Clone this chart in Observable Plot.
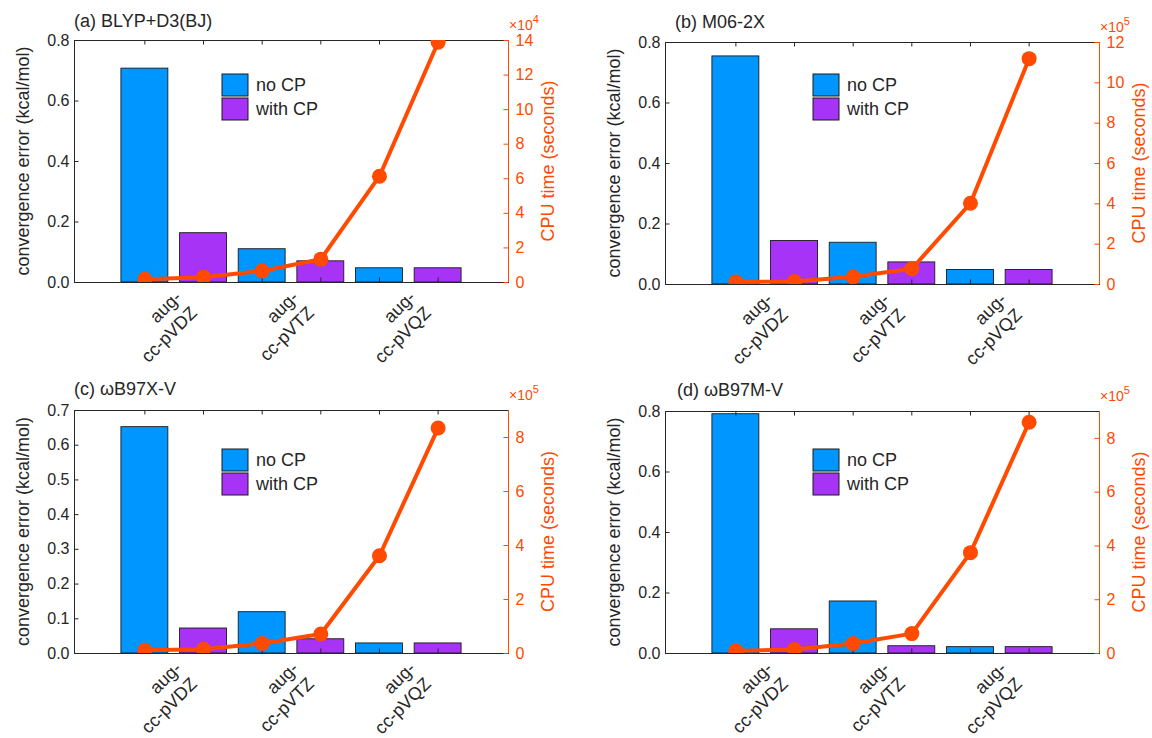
<!DOCTYPE html>
<html>
<head>
<meta charset="utf-8">
<script src="https://cdn.jsdelivr.net/npm/d3@7"></script>
<script src="https://cdn.jsdelivr.net/npm/@observablehq/plot@0.6"></script>
<style>
  body { margin: 0; background: #fff; }
  #fig { position: relative; width: 1152px; height: 738px; background: #fff;
         font-family: "Liberation Sans", Arial, Helvetica, sans-serif; }
  #fig svg { position: absolute; overflow: visible; }
  .blabel { position: absolute; font-size: 18px; line-height: 22px; color: #262626;
            text-align: right; white-space: pre; transform-origin: 100% 50%; }
</style>
</head>
<body>
<div id="fig"></div>
<script>
// ---- data -------------------------------------------------------------
const basisLabels = ["aug-\ncc-pVDZ", "aug-\ncc-pVTZ", "aug-\ncc-pVQZ"];
const seriesNames = ["no CP", "with CP"];

// convergence error (kcal/mol) per basis set: DZ, TZ, QZ
const errNoCP_a = [0.707, 0.110, 0.047];
const errCP_a   = [0.163, 0.070, 0.047];
const errNoCP_b = [0.754, 0.138, 0.048];
const errCP_b   = [0.144, 0.073, 0.048];
const errNoCP_c = [0.652, 0.119, 0.029];
const errCP_c   = [0.072, 0.041, 0.029];
const errNoCP_d = [0.791, 0.172, 0.021];
const errCP_d   = [0.080, 0.024, 0.021];

// CPU time (seconds): DZ noCP, DZ CP, TZ noCP, TZ CP, QZ noCP, QZ CP
const cpu_a = [1900, 3100, 6700, 13500, 61500, 139000];
const cpu_b = [12000, 15000, 38000, 78000, 403000, 1120000];
const cpu_c = [12000, 16000, 37000, 72000, 362000, 835000];
const cpu_d = [10000, 15000, 37000, 74000, 375000, 860000];

// axis ranges
const errMax  = [0.8, 0.8, 0.7, 0.8];
const errStep = [0.2, 0.2, 0.1, 0.2];
const cpuMax  = [14e4, 12e5, 9e5, 9e5];
const cpuTickMax = [14e4, 12e5, 8e5, 8e5];
const cpuStep = [2e4, 2e5, 2e5, 2e5];
const cpuExp  = [4, 5, 5, 5];

const titles = ["(a) BLYP+D3(BJ)", "(b) M06-2X", "(c) \u03c9B97X-V", "(d) \u03c9B97M-V"];

// ---- style ------------------------------------------------------------
const INK = "#262626";
const BLUE = "#0096ff";
const PURPLE = "#a633f6";
const ORANGE = "#ff4a00";
const FONT = "'Liberation Sans', Arial, Helvetica, sans-serif";

const X_MIN = -0.2, X_MAX = 7.2;
const W = 576, H = 369;

// panel placement on the page
const layout = [
  {left: 0,   top: 0,   mL: 74, mR: 68, mT: 40, mB: 87, titleX: 74,  titleY: 27, legendY: 34},
  {left: 576, top: 0,   mL: 89, mR: 53, mT: 42, mB: 85, titleX: 99,  titleY: 28, legendY: 32},
  {left: 0,   top: 369, mL: 74, mR: 68, mT: 41, mB: 85, titleX: 74,  titleY: 26, legendY: 39},
  {left: 576, top: 369, mL: 89, mR: 53, mT: 42, mB: 85, titleX: 101, titleY: 27, legendY: 38}
];

const panelData = [
  {noCP: errNoCP_a, withCP: errCP_a, cpu: cpu_a},
  {noCP: errNoCP_b, withCP: errCP_b, cpu: cpu_b},
  {noCP: errNoCP_c, withCP: errCP_c, cpu: cpu_c},
  {noCP: errNoCP_d, withCP: errCP_d, cpu: cpu_d}
];

const fig = document.getElementById("fig");

panelData.forEach((p, idx) => {
  const L = layout[idx];
  const plotW = W - L.mL - L.mR;
  const plotH = H - L.mT - L.mB;

  const bars = [];
  p.noCP.forEach((v, i) => bars.push({pos: 2 * i + 1, series: seriesNames[0], value: v}));
  p.withCP.forEach((v, i) => bars.push({pos: 2 * i + 2, series: seriesNames[1], value: v}));
  const positions = bars.map(d => d.pos).sort((a, b) => a - b);
  const cpuPts = p.cpu.map((v, i) => ({pos: i + 1, cpu: v}));

  // CPU time is drawn on the left y scale, rescaled to its range
  const k = errMax[idx] / cpuMax[idx];
  const errTicks = d3.range(0, errMax[idx] + 1e-9, errStep[idx]).map(v => +v.toFixed(2));
  const cpuTicks = d3.range(0, cpuTickMax[idx] + 1, cpuStep[idx]);

  const tx = 4.5 * (X_MAX - X_MIN) / plotW;   // inward tick length, x units
  const ty = 4.5 * errMax[idx] / plotH;       // inward tick length, y units

  const chart = Plot.plot({
    width: W, height: H,
    marginLeft: L.mL, marginRight: L.mR, marginTop: L.mT, marginBottom: L.mB,
    x: {domain: [X_MIN, X_MAX], axis: null},
    y: {domain: [0, errMax[idx]], axis: null},
    color: {domain: seriesNames, range: [BLUE, PURPLE]},
    style: {fontFamily: FONT, fontSize: "16px", color: INK, background: "transparent", overflow: "visible"},
    marks: [
      Plot.rect(bars, {x1: d => d.pos - 0.4, x2: d => d.pos + 0.4, y1: 0, y2: "value",
                       fill: "series", stroke: "#1a1a1a", strokeWidth: 0.9}),
      Plot.frame({stroke: INK, strokeWidth: 1}),
      Plot.ruleX([X_MAX], {stroke: ORANGE, strokeWidth: 1}),
      Plot.ruleY(errTicks, {x1: X_MIN, x2: X_MIN + tx, stroke: INK}),
      Plot.ruleY(cpuTicks, {y: d => d * k, x1: X_MAX - tx, x2: X_MAX, stroke: ORANGE}),
      Plot.ruleX(positions, {y1: errMax[idx] - ty, y2: errMax[idx], stroke: INK}),
      Plot.ruleX(positions, {y1: 0, y2: ty, stroke: INK}),
      Plot.axisY(errTicks, {anchor: "left", tickSize: 0, tickPadding: 5,
                            tickFormat: d3.format(".1f"), label: null, fontSize: 16, color: INK}),
      Plot.axisY(cpuTicks.map(d => d * k), {anchor: "right", tickSize: 0, tickPadding: 7,
                            tickFormat: d => String(Math.round(d / k / 10 ** cpuExp[idx])),
                            label: null, fontSize: 16, color: ORANGE}),
      Plot.line(cpuPts, {x: "pos", y: d => d.cpu * k, stroke: ORANGE, strokeWidth: 4, clip: true}),
      Plot.dot(cpuPts, {x: "pos", y: d => d.cpu * k, r: 7.5, fill: ORANGE, stroke: "none", clip: true})
    ]
  });

  chart.style.left = L.left + "px";
  chart.style.top = L.top + "px";
  fig.appendChild(chart);

  const xs = chart.scale("x");
  const svg = d3.select(chart);
  const g = svg.append("g").attr("font-family", FONT).attr("text-anchor", "start");
  const plotRight = L.mL + plotW;
  const plotBottom = L.mT + plotH;
  const midY = L.mT + plotH / 2;

  // rotated basis-set labels, centred between each pair of bars;
  // each block's right-middle point sits at the anchor and turns about it
  basisLabels.forEach((lab, i) => {
    const ax = L.left + xs.apply(2 * i + 1.5) + 12;
    const ay = L.top + plotBottom + 20;
    const div = d3.select(fig).append("div").attr("class", "blabel").text(lab);
    const node = div.node();
    const w = node.offsetWidth, h = node.offsetHeight;
    div.style("left", (ax - w) + "px").style("top", (ay - h / 2) + "px")
       .style("transform", "rotate(-45deg)");
  });

  // panel title
  g.append("text").attr("x", L.titleX).attr("y", L.titleY)
    .attr("font-size", 18).attr("fill", INK).text(titles[idx]);

  // y axis titles
  g.append("text").attr("transform", `translate(${L.mL - 45},${midY}) rotate(-90)`)
    .attr("text-anchor", "middle").attr("font-size", 18).attr("fill", INK)
    .text("convergence error (kcal/mol)");
  g.append("text").attr("transform", `translate(${plotRight + 46},${midY}) rotate(-90)`)
    .attr("text-anchor", "middle").attr("font-size", 18).attr("fill", ORANGE)
    .text("CPU time (seconds)");

  // exponent of the right axis
  const ex = g.append("text").attr("x", plotRight + 1).attr("y", L.mT - 10).attr("fill", ORANGE);
  ex.append("tspan").attr("font-size", 14).text("\u00d710");
  ex.append("tspan").attr("font-size", 11).attr("dy", -7).text(String(cpuExp[idx]));

  // legend
  const lx = L.mL + 148, ly = L.mT + L.legendY;
  [BLUE, PURPLE].forEach((c, i) => {
    const y0 = ly + i * 24;
    g.append("rect").attr("x", lx).attr("y", y0).attr("width", 26).attr("height", 22)
      .attr("fill", c).attr("stroke", "#1a1a1a").attr("stroke-width", 1);
    g.append("text").attr("x", lx + 34).attr("y", y0 + 11).attr("dy", "0.35em")
      .attr("font-size", 18).attr("fill", INK).text(seriesNames[i]);
  });
});
</script>
</body>
</html>
